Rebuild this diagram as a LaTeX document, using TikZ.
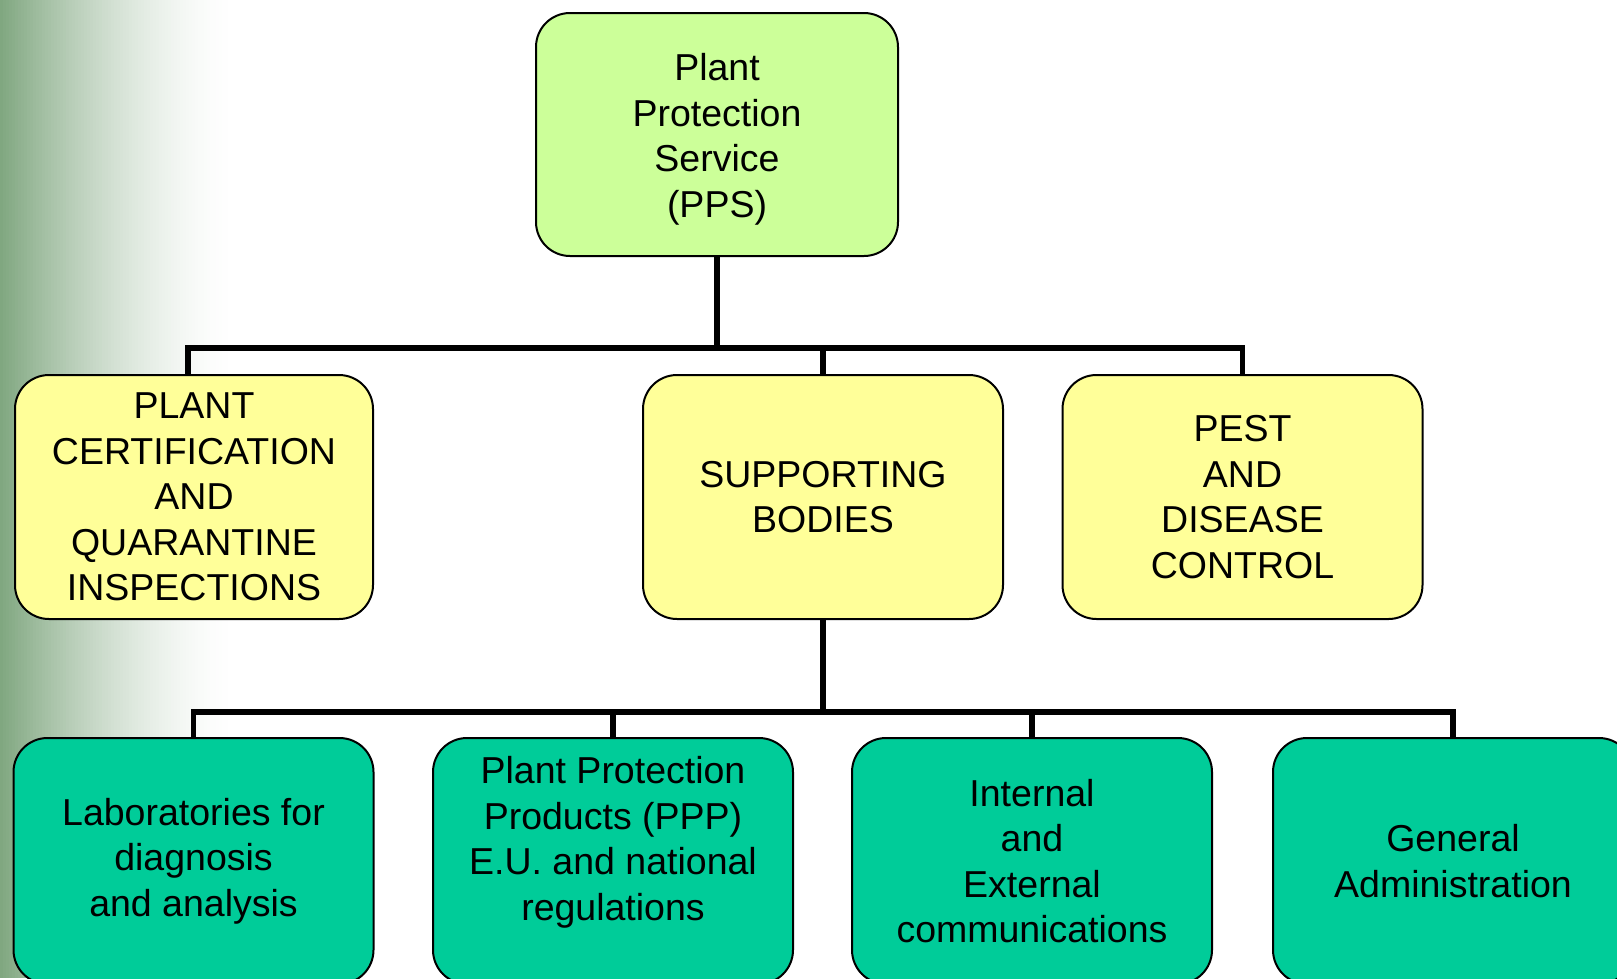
\documentclass[tikz,border=0pt]{standalone}
\usepackage{fontspec}
\setmainfont{Liberation Sans}
\definecolor{topfill}{HTML}{CCFF99}
\definecolor{midfill}{HTML}{FFFF99}
\definecolor{lowfill}{HTML}{00CC99}
\definecolor{bggreen}{HTML}{7FA67F}
\begin{document}
\begin{tikzpicture}[x=1pt,y=-1pt,
  box/.style={draw=black,line width=2pt,rounded corners=34pt,inner sep=0pt,
    minimum width=360pt,minimum height=244pt,align=center,
    font=\fontsize{37.5}{45.5}\selectfont},
  topbox/.style={box,fill=topfill,minimum width=362pt,minimum height=243pt},
  midbox/.style={box,fill=midfill},
  lowbox/.style={box,fill=lowfill,minimum height=246pt},
  link/.style={draw=black,line width=5.5pt,line join=miter}]
\path[use as bounding box,clip] (0,0) rectangle (1617,978);
% left background gradient
\foreach \i in {0,...,77}{
  \pgfmathsetmacro\p{100*(1-(\i*3+1.5)/235)^1.6}
  \fill[bggreen!\p!white] (\i*3,0) rectangle (\i*3+3.4,978);
}
% nodes
\node[topbox] (pps) at (717,134.5) {\mbox{}\\[-8.5pt]Plant\\Protection\\Service\\(PPS)};
\node[midbox,minimum width=358pt] (pc) at (194,497) {PLANT\\CERTIFICATION\\AND\\QUARANTINE\\INSPECTIONS};
\node[midbox] (sb) at (823,497) {SUPPORTING\\BODIES};
\node[midbox] (pdc) at (1242.5,497) {PEST\\AND\\DISEASE\\CONTROL};
\node[lowbox] (lab) at (193.5,861) {Laboratories for\\diagnosis\\and analysis};
\node[lowbox] (ppp) at (613,861) {Plant Protection\\Products (PPP)\\E.U. and national\\regulations\\\mbox{}};
\node[lowbox] (com) at (1032,861) {Internal\\and\\External\\communications};
\node[lowbox] (gen) at (1453,861) {General\\Administration};
% connectors
\coordinate (bar1) at (717,348);
\coordinate (bar2) at (822,712);
\draw[link] (pps.south) -- (bar1);
\draw[link] ([xshift=-6pt]pc.north) |- (bar1) -| (pdc.north);
\draw[link] (sb.north |- bar1) -- (sb.north);
\draw[link] (sb.south) -- (sb.south |- bar2);
\draw[link] (lab.north) |- (bar2) -| (gen.north);
\draw[link] (ppp.north |- bar2) -- (ppp.north);
\draw[link] (com.north |- bar2) -- (com.north);
\end{tikzpicture}
\end{document}
